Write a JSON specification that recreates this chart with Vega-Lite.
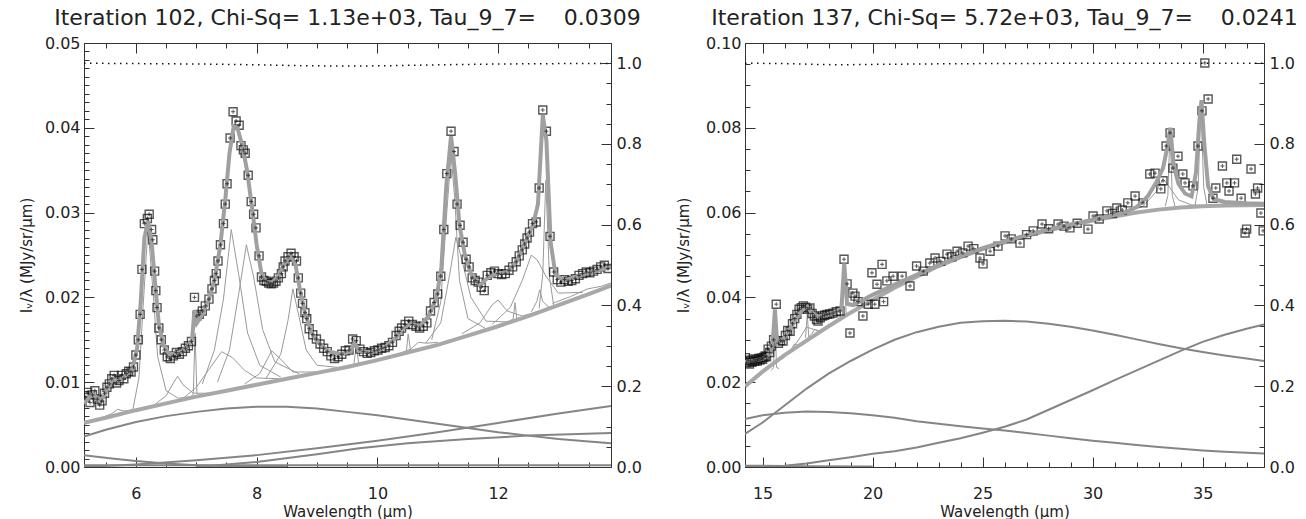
{
"$schema": "https://vega.github.io/schema/vega-lite/v6.json",
"background": "white",
"padding": {"left": 18, "top": 6, "right": 5, "bottom": 0},
"spacing": 33,
"config": {
  "view": {"stroke": "#333", "strokeWidth": 1},
  "axis": {"labelFont": "DejaVu Sans", "labelFontSize": 16, "labelColor": "#222", "titleFont": "DejaVu Sans", "titleFontSize": 15, "titleFontWeight": "normal", "titleColor": "#222", "grid": false, "labelFlush": false, "labelOverlap": false, "labelBound": false, "tickColor": "#333", "tickWidth": 1, "domainColor": "#333", "domainWidth": 1}
},
"datasets": {
"p1d": [
{"x":5.16,"y":0.0082},{"x":5.20,"y":0.0088},{"x":5.24,"y":0.0076},{"x":5.28,"y":0.0085},{"x":5.32,"y":0.0090},{"x":5.36,"y":0.0080},{"x":5.40,"y":0.0073},{"x":5.44,"y":0.0078},{"x":5.48,"y":0.0087},{"x":5.52,"y":0.0094},{"x":5.56,"y":0.0098},{"x":5.60,"y":0.0104},{"x":5.64,"y":0.0108},{"x":5.68,"y":0.0099},{"x":5.72,"y":0.0102},{"x":5.76,"y":0.0108},{"x":5.80,"y":0.0104},{"x":5.84,"y":0.0110},{"x":5.88,"y":0.0113},{"x":5.92,"y":0.0112},{"x":5.96,"y":0.0118},{"x":6.00,"y":0.0132},{"x":6.04,"y":0.0150},{"x":6.07,"y":0.0180},{"x":6.10,"y":0.0233},{"x":6.14,"y":0.0287},{"x":6.19,"y":0.0293},{"x":6.22,"y":0.0298},{"x":6.26,"y":0.0280},{"x":6.28,"y":0.0268},{"x":6.31,"y":0.0231},{"x":6.33,"y":0.0208},{"x":6.35,"y":0.0188},{"x":6.38,"y":0.0164},{"x":6.42,"y":0.0150},{"x":6.47,"y":0.0138},{"x":6.52,"y":0.0130},{"x":6.57,"y":0.0128},{"x":6.62,"y":0.0131},{"x":6.67,"y":0.0135},{"x":6.72,"y":0.0133},{"x":6.77,"y":0.0136},{"x":6.82,"y":0.0140},{"x":6.87,"y":0.0143},{"x":6.92,"y":0.0148},{"x":6.97,"y":0.0200},{"x":7.01,"y":0.0178},{"x":7.05,"y":0.0180},{"x":7.10,"y":0.0184},{"x":7.15,"y":0.0190},{"x":7.21,"y":0.0198},{"x":7.26,"y":0.0210},{"x":7.30,"y":0.0220},{"x":7.33,"y":0.0228},{"x":7.36,"y":0.0243},{"x":7.40,"y":0.0262},{"x":7.45,"y":0.0287},{"x":7.48,"y":0.0310},{"x":7.51,"y":0.0334},{"x":7.56,"y":0.0388},{"x":7.61,"y":0.0419},{"x":7.66,"y":0.0408},{"x":7.71,"y":0.0403},{"x":7.74,"y":0.0379},{"x":7.78,"y":0.0374},{"x":7.81,"y":0.0370},{"x":7.86,"y":0.0344},{"x":7.91,"y":0.0313},{"x":7.95,"y":0.0298},{"x":7.99,"y":0.0282},{"x":8.04,"y":0.0249},{"x":8.08,"y":0.0224},{"x":8.12,"y":0.0220},{"x":8.16,"y":0.0219},{"x":8.20,"y":0.0217},{"x":8.24,"y":0.0216},{"x":8.28,"y":0.0217},{"x":8.32,"y":0.0219},{"x":8.36,"y":0.0223},{"x":8.41,"y":0.0228},{"x":8.44,"y":0.0236},{"x":8.47,"y":0.0243},{"x":8.52,"y":0.0248},{"x":8.57,"y":0.0252},{"x":8.62,"y":0.0248},{"x":8.66,"y":0.0243},{"x":8.69,"y":0.0223},{"x":8.73,"y":0.0205},{"x":8.76,"y":0.0193},{"x":8.80,"y":0.0182},{"x":8.83,"y":0.0175},{"x":8.87,"y":0.0163},{"x":8.93,"y":0.0156},{"x":8.99,"y":0.0151},{"x":9.05,"y":0.0145},{"x":9.11,"y":0.0140},{"x":9.17,"y":0.0136},{"x":9.23,"y":0.0131},{"x":9.29,"y":0.0128},{"x":9.35,"y":0.0130},{"x":9.41,"y":0.0133},{"x":9.47,"y":0.0137},{"x":9.53,"y":0.0138},{"x":9.59,"y":0.0151},{"x":9.65,"y":0.0149},{"x":9.71,"y":0.0139},{"x":9.77,"y":0.0136},{"x":9.83,"y":0.0134},{"x":9.89,"y":0.0135},{"x":9.95,"y":0.0137},{"x":10.01,"y":0.0138},{"x":10.07,"y":0.0140},{"x":10.13,"y":0.0141},{"x":10.19,"y":0.0143},{"x":10.25,"y":0.0147},{"x":10.31,"y":0.0155},{"x":10.36,"y":0.0160},{"x":10.40,"y":0.0164},{"x":10.46,"y":0.0168},{"x":10.52,"y":0.0172},{"x":10.58,"y":0.0168},{"x":10.64,"y":0.0166},{"x":10.70,"y":0.0164},{"x":10.76,"y":0.0166},{"x":10.82,"y":0.0170},{"x":10.88,"y":0.0184},{"x":10.94,"y":0.0194},{"x":11.00,"y":0.0204},{"x":11.05,"y":0.0225},{"x":11.10,"y":0.0280},{"x":11.15,"y":0.0346},{"x":11.22,"y":0.0396},{"x":11.27,"y":0.0372},{"x":11.32,"y":0.0310},{"x":11.37,"y":0.0285},{"x":11.42,"y":0.0265},{"x":11.47,"y":0.0245},{"x":11.52,"y":0.0236},{"x":11.57,"y":0.0223},{"x":11.62,"y":0.0220},{"x":11.67,"y":0.0218},{"x":11.72,"y":0.0212},{"x":11.77,"y":0.0208},{"x":11.82,"y":0.0226},{"x":11.88,"y":0.0229},{"x":11.94,"y":0.0231},{"x":12.00,"y":0.0228},{"x":12.06,"y":0.0227},{"x":12.12,"y":0.0228},{"x":12.18,"y":0.0232},{"x":12.24,"y":0.0236},{"x":12.30,"y":0.0242},{"x":12.35,"y":0.0249},{"x":12.40,"y":0.0256},{"x":12.44,"y":0.0263},{"x":12.48,"y":0.0270},{"x":12.52,"y":0.0277},{"x":12.57,"y":0.0287},{"x":12.63,"y":0.0289},{"x":12.68,"y":0.0329},{"x":12.74,"y":0.0421},{"x":12.80,"y":0.0396},{"x":12.86,"y":0.0272},{"x":12.92,"y":0.0230},{"x":12.98,"y":0.0221},{"x":13.04,"y":0.0218},{"x":13.10,"y":0.0221},{"x":13.16,"y":0.0219},{"x":13.22,"y":0.0220},{"x":13.28,"y":0.0222},{"x":13.34,"y":0.0226},{"x":13.40,"y":0.0228},{"x":13.46,"y":0.0230},{"x":13.52,"y":0.0229},{"x":13.58,"y":0.0231},{"x":13.64,"y":0.0233},{"x":13.70,"y":0.0236},{"x":13.76,"y":0.0238},{"x":13.82,"y":0.0234}
],
"p1m": [
{"x":5.14,"y":0.0075},{"x":5.22,"y":0.0082},{"x":5.30,"y":0.0086},{"x":5.38,"y":0.0079},{"x":5.46,"y":0.0082},{"x":5.54,"y":0.0094},{"x":5.62,"y":0.0104},{"x":5.70,"y":0.0101},{"x":5.78,"y":0.0105},{"x":5.86,"y":0.0110},{"x":5.94,"y":0.0115},{"x":6.02,"y":0.0140},{"x":6.08,"y":0.0195},{"x":6.14,"y":0.0270},{"x":6.20,"y":0.0290},{"x":6.26,"y":0.0265},{"x":6.32,"y":0.0215},{"x":6.38,"y":0.0168},{"x":6.45,"y":0.0145},{"x":6.55,"y":0.0133},{"x":6.65,"y":0.0134},{"x":6.75,"y":0.0136},{"x":6.85,"y":0.0142},{"x":6.93,"y":0.0150},{"x":6.97,"y":0.0185},{"x":7.01,"y":0.0170},{"x":7.10,"y":0.0180},{"x":7.20,"y":0.0196},{"x":7.30,"y":0.0220},{"x":7.40,"y":0.0262},{"x":7.48,"y":0.0315},{"x":7.55,"y":0.0370},{"x":7.62,"y":0.0402},{"x":7.68,"y":0.0400},{"x":7.76,"y":0.0380},{"x":7.84,"y":0.0350},{"x":7.92,"y":0.0308},{"x":8.00,"y":0.0262},{"x":8.08,"y":0.0228},{"x":8.16,"y":0.0218},{"x":8.26,"y":0.0218},{"x":8.36,"y":0.0225},{"x":8.46,"y":0.0240},{"x":8.56,"y":0.0250},{"x":8.64,"y":0.0240},{"x":8.72,"y":0.0208},{"x":8.80,"y":0.0182},{"x":8.90,"y":0.0160},{"x":9.00,"y":0.0148},{"x":9.20,"y":0.0136},{"x":9.40,"y":0.0133},{"x":9.55,"y":0.0136},{"x":9.62,"y":0.0146},{"x":9.70,"y":0.0137},{"x":9.90,"y":0.0135},{"x":10.10,"y":0.0140},{"x":10.30,"y":0.0152},{"x":10.45,"y":0.0165},{"x":10.55,"y":0.0169},{"x":10.70,"y":0.0166},{"x":10.85,"y":0.0178},{"x":10.98,"y":0.0200},{"x":11.06,"y":0.0235},{"x":11.14,"y":0.0330},{"x":11.22,"y":0.0390},{"x":11.29,"y":0.0345},{"x":11.36,"y":0.0285},{"x":11.45,"y":0.0250},{"x":11.55,"y":0.0228},{"x":11.70,"y":0.0214},{"x":11.85,"y":0.0225},{"x":12.00,"y":0.0228},{"x":12.15,"y":0.0230},{"x":12.30,"y":0.0242},{"x":12.45,"y":0.0265},{"x":12.58,"y":0.0286},{"x":12.66,"y":0.0310},{"x":12.74,"y":0.0415},{"x":12.80,"y":0.0385},{"x":12.87,"y":0.0265},{"x":12.95,"y":0.0227},{"x":13.10,"y":0.0220},{"x":13.40,"y":0.0227},{"x":13.87,"y":0.0236}
],
"p1c": [
{"x":5.14,"y":0.0052},{"x":5.5,"y":0.0058},{"x":6,"y":0.0067},{"x":6.5,"y":0.0075},{"x":7,"y":0.0083},{"x":7.5,"y":0.0090},{"x":8,"y":0.0097},{"x":8.5,"y":0.0104},{"x":9,"y":0.0111},{"x":9.5,"y":0.0118},{"x":10,"y":0.0126},{"x":10.5,"y":0.0135},{"x":11,"y":0.0144},{"x":11.5,"y":0.0155},{"x":12,"y":0.0166},{"x":12.5,"y":0.0178},{"x":13,"y":0.0191},{"x":13.5,"y":0.0204},{"x":13.87,"y":0.0214}
],
"p1k": [
{"s":"h","x":5.14,"y":0.0036},{"s":"h","x":5.5,"y":0.0044},{"s":"h","x":6,"y":0.0053},{"s":"h","x":6.5,"y":0.0060},{"s":"h","x":7,"y":0.0065},{"s":"h","x":7.5,"y":0.0069},{"s":"h","x":8,"y":0.0071},{"s":"h","x":8.5,"y":0.0071},{"s":"h","x":9,"y":0.0069},{"s":"h","x":9.5,"y":0.0065},{"s":"h","x":10,"y":0.0061},{"s":"h","x":10.5,"y":0.0056},{"s":"h","x":11,"y":0.0051},{"s":"h","x":11.5,"y":0.0046},{"s":"h","x":12,"y":0.0041},{"s":"h","x":12.5,"y":0.0037},{"s":"h","x":13,"y":0.0033},{"s":"h","x":13.5,"y":0.0030},{"s":"h","x":13.87,"y":0.0028},
{"s":"d","x":5.14,"y":0.0014},{"s":"d","x":5.6,"y":0.0010},{"s":"d","x":6.0,"y":0.0007},{"s":"d","x":6.5,"y":0.0004},{"s":"d","x":7.0,"y":0.0002},{"s":"d","x":7.5,"y":0.0001},{"s":"d","x":8.5,"y":0.0},
{"s":"r1","x":5.14,"y":0.0},{"s":"r1","x":6,"y":0.0003},{"s":"r1","x":7,"y":0.0008},{"s":"r1","x":8,"y":0.0014},{"s":"r1","x":9,"y":0.0022},{"s":"r1","x":10,"y":0.0031},{"s":"r1","x":11,"y":0.0041},{"s":"r1","x":12,"y":0.0052},{"s":"r1","x":13,"y":0.0063},{"s":"r1","x":13.87,"y":0.0072},
{"s":"r2","x":7.0,"y":0.0},{"s":"r2","x":8.0,"y":0.0006},{"s":"r2","x":9.0,"y":0.0015},{"s":"r2","x":9.7,"y":0.0022},{"s":"r2","x":10.5,"y":0.0028},{"s":"r2","x":11.5,"y":0.0033},{"s":"r2","x":12.5,"y":0.0037},{"s":"r2","x":13.87,"y":0.0040},
{"s":"z","x":5.14,"y":0.0002},{"s":"z","x":13.87,"y":0.0002}
],
"p1f": [
{"s":"a","x":5.4,"y":0.0057},{"s":"a","x":5.6,"y":0.0063},{"s":"a","x":5.7,"y":0.0068},{"s":"a","x":5.8,"y":0.0066},{"s":"a","x":6.0,"y":0.0068},
{"s":"b","x":5.95,"y":0.0068},{"s":"b","x":6.05,"y":0.0105},{"s":"b","x":6.12,"y":0.0190},{"s":"b","x":6.2,"y":0.0282},{"s":"b","x":6.28,"y":0.0210},{"s":"b","x":6.36,"y":0.0130},{"s":"b","x":6.5,"y":0.0090},{"s":"b","x":6.7,"y":0.0081},{"s":"b","x":7.0,"y":0.0084},
{"s":"c","x":6.3,"y":0.0073},{"s":"c","x":6.5,"y":0.0084},{"s":"c","x":6.62,"y":0.0099},{"s":"c","x":6.69,"y":0.0107},{"s":"c","x":6.78,"y":0.0097},{"s":"c","x":6.95,"y":0.0087},{"s":"c","x":7.2,"y":0.0087},
{"s":"d","x":6.9,"y":0.0082},{"s":"d","x":6.95,"y":0.0086},{"s":"d","x":6.98,"y":0.0158},{"s":"d","x":7.01,"y":0.0087},{"s":"d","x":7.06,"y":0.0084},
{"s":"e","x":6.8,"y":0.0082},{"s":"e","x":7.0,"y":0.0094},{"s":"e","x":7.2,"y":0.0114},{"s":"e","x":7.42,"y":0.0136},{"s":"e","x":7.6,"y":0.0129},{"s":"e","x":7.8,"y":0.0114},{"s":"e","x":8.0,"y":0.0105},{"s":"e","x":8.4,"y":0.0104},
{"s":"f","x":7.1,"y":0.0098},{"s":"f","x":7.3,"y":0.0138},{"s":"f","x":7.45,"y":0.0198},{"s":"f","x":7.58,"y":0.0280},{"s":"f","x":7.7,"y":0.0228},{"s":"f","x":7.85,"y":0.0158},{"s":"f","x":8.05,"y":0.0120},{"s":"f","x":8.4,"y":0.0106},
{"s":"g","x":7.35,"y":0.0100},{"s":"g","x":7.55,"y":0.0138},{"s":"g","x":7.7,"y":0.0203},{"s":"g","x":7.83,"y":0.0262},{"s":"g","x":7.95,"y":0.0224},{"s":"g","x":8.1,"y":0.0162},{"s":"g","x":8.3,"y":0.0124},{"s":"g","x":8.7,"y":0.0110},
{"s":"h","x":7.8,"y":0.0098},{"s":"h","x":8.05,"y":0.0110},{"s":"h","x":8.25,"y":0.0137},{"s":"h","x":8.4,"y":0.0127},{"s":"h","x":8.6,"y":0.0112},{"s":"h","x":9.0,"y":0.0112},
{"s":"i","x":8.15,"y":0.0104},{"s":"i","x":8.4,"y":0.0133},{"s":"i","x":8.52,"y":0.0173},{"s":"i","x":8.6,"y":0.0210},{"s":"i","x":8.7,"y":0.0178},{"s":"i","x":8.82,"y":0.0138},{"s":"i","x":9.0,"y":0.0120},{"s":"i","x":9.4,"y":0.0117},
{"s":"j","x":9.55,"y":0.0119},{"s":"j","x":9.61,"y":0.0121},{"s":"j","x":9.65,"y":0.0144},{"s":"j","x":9.69,"y":0.0122},{"s":"j","x":9.75,"y":0.0121},
{"s":"k","x":10.42,"y":0.0134},{"s":"k","x":10.48,"y":0.0136},{"s":"k","x":10.51,"y":0.0157},{"s":"k","x":10.55,"y":0.0137},{"s":"k","x":10.6,"y":0.0137},
{"s":"l","x":10.3,"y":0.0132},{"s":"l","x":10.55,"y":0.0139},{"s":"l","x":10.68,"y":0.0147},{"s":"l","x":10.82,"y":0.0146},{"s":"l","x":11.0,"y":0.0147},
{"s":"m","x":10.9,"y":0.0150},{"s":"m","x":11.05,"y":0.0195},{"s":"m","x":11.15,"y":0.0300},{"s":"m","x":11.22,"y":0.0368},{"s":"m","x":11.28,"y":0.0318},{"s":"m","x":11.36,"y":0.0220},{"s":"m","x":11.5,"y":0.0175},{"s":"m","x":11.8,"y":0.0163},
{"s":"n","x":10.8,"y":0.0146},{"s":"n","x":11.05,"y":0.0170},{"s":"n","x":11.2,"y":0.0228},{"s":"n","x":11.3,"y":0.0271},{"s":"n","x":11.4,"y":0.0244},{"s":"n","x":11.55,"y":0.0200},{"s":"n","x":11.8,"y":0.0172},{"s":"n","x":12.2,"y":0.0171},
{"s":"o","x":11.4,"y":0.0157},{"s":"o","x":11.7,"y":0.0170},{"s":"o","x":11.9,"y":0.0191},{"s":"o","x":12.0,"y":0.0197},{"s":"o","x":12.15,"y":0.0184},{"s":"o","x":12.4,"y":0.0178},{"s":"o","x":12.8,"y":0.0186},
{"s":"p","x":12.2,"y":0.0172},{"s":"p","x":12.25,"y":0.0175},{"s":"p","x":12.28,"y":0.0194},{"s":"p","x":12.31,"y":0.0175},{"s":"p","x":12.36,"y":0.0175},
{"s":"q","x":11.9,"y":0.0168},{"s":"q","x":12.2,"y":0.0188},{"s":"q","x":12.4,"y":0.0220},{"s":"q","x":12.55,"y":0.0250},{"s":"q","x":12.65,"y":0.0244},{"s":"q","x":12.8,"y":0.0224},{"s":"q","x":13.0,"y":0.0205},{"s":"q","x":13.4,"y":0.0206},
{"s":"r","x":12.55,"y":0.0183},{"s":"r","x":12.64,"y":0.0195},{"s":"r","x":12.69,"y":0.0209},{"s":"r","x":12.74,"y":0.0195},{"s":"r","x":12.85,"y":0.0188},
{"s":"t","x":12.68,"y":0.0187},{"s":"t","x":12.74,"y":0.0228},{"s":"t","x":12.79,"y":0.0338},{"s":"t","x":12.85,"y":0.0224},{"s":"t","x":12.92,"y":0.0191},
{"s":"u","x":12.9,"y":0.0193},{"s":"u","x":13.2,"y":0.0201},{"s":"u","x":13.48,"y":0.0210},{"s":"u","x":13.7,"y":0.0213},{"s":"u","x":13.87,"y":0.0217}
],
"p1e": [
{"x":5.14,"e":1.0},{"x":6,"e":0.999},{"x":7,"e":0.998},{"x":8,"e":0.996},{"x":8.7,"e":0.994},{"x":9.3,"e":0.993},{"x":9.7,"e":0.993},{"x":10.3,"e":0.994},{"x":11,"e":0.996},{"x":12,"e":0.998},{"x":13,"e":0.999},{"x":13.87,"e":0.999}
],
"p2d": [
{"x":14.22,"y":0.0258},{"x":14.28,"y":0.0246},{"x":14.34,"y":0.0252},{"x":14.40,"y":0.0243},{"x":14.46,"y":0.0250},{"x":14.52,"y":0.0247},{"x":14.58,"y":0.0255},{"x":14.64,"y":0.0249},{"x":14.70,"y":0.0253},{"x":14.76,"y":0.0250},{"x":14.82,"y":0.0256},{"x":14.88,"y":0.0252},{"x":14.94,"y":0.0257},{"x":15.00,"y":0.0254},{"x":15.06,"y":0.0259},{"x":15.12,"y":0.0262},{"x":15.18,"y":0.0260},{"x":15.25,"y":0.0278},{"x":15.32,"y":0.0270},{"x":15.40,"y":0.0285},{"x":15.50,"y":0.0300},{"x":15.62,"y":0.0384},{"x":15.72,"y":0.0292},{"x":15.82,"y":0.0298},{"x":15.93,"y":0.0297},{"x":16.04,"y":0.0310},{"x":16.14,"y":0.0322},{"x":16.25,"y":0.0320},{"x":16.36,"y":0.0338},{"x":16.46,"y":0.0350},{"x":16.56,"y":0.0360},{"x":16.66,"y":0.0372},{"x":16.76,"y":0.0376},{"x":16.85,"y":0.0380},{"x":16.95,"y":0.0377},{"x":17.05,"y":0.0372},{"x":17.15,"y":0.0375},{"x":17.25,"y":0.0362},{"x":17.35,"y":0.0356},{"x":17.45,"y":0.0348},{"x":17.52,"y":0.0344},{"x":17.62,"y":0.0352},{"x":17.72,"y":0.0356},{"x":17.82,"y":0.0358},{"x":17.93,"y":0.0360},{"x":18.05,"y":0.0361},{"x":18.20,"y":0.0363},{"x":18.35,"y":0.0366},{"x":18.52,"y":0.0368},{"x":18.70,"y":0.0490},{"x":18.84,"y":0.0432},{"x":18.97,"y":0.0316},{"x":19.10,"y":0.0410},{"x":19.20,"y":0.0403},{"x":19.34,"y":0.0390},{"x":19.56,"y":0.0356},{"x":19.80,"y":0.0384},{"x":19.97,"y":0.0458},{"x":20.10,"y":0.0384},{"x":20.20,"y":0.0431},{"x":20.43,"y":0.0478},{"x":20.50,"y":0.0390},{"x":20.65,"y":0.0439},{"x":20.93,"y":0.0450},{"x":21.34,"y":0.0450},{"x":21.70,"y":0.0427},{"x":22.00,"y":0.0474},{"x":22.30,"y":0.0462},{"x":22.60,"y":0.0481},{"x":22.84,"y":0.0493},{"x":23.10,"y":0.0485},{"x":23.38,"y":0.0502},{"x":23.60,"y":0.0496},{"x":23.84,"y":0.0509},{"x":24.10,"y":0.0505},{"x":24.34,"y":0.0521},{"x":24.60,"y":0.0515},{"x":24.88,"y":0.0493},{"x":25.02,"y":0.0479},{"x":25.34,"y":0.0509},{"x":25.70,"y":0.0521},{"x":26.02,"y":0.0545},{"x":26.30,"y":0.0538},{"x":26.70,"y":0.0528},{"x":27.00,"y":0.0548},{"x":27.30,"y":0.0557},{"x":27.70,"y":0.0573},{"x":28.00,"y":0.0562},{"x":28.43,"y":0.0573},{"x":28.70,"y":0.0568},{"x":28.97,"y":0.0564},{"x":29.30,"y":0.0575},{"x":29.79,"y":0.0561},{"x":30.02,"y":0.0592},{"x":30.30,"y":0.0585},{"x":30.65,"y":0.0604},{"x":30.90,"y":0.0598},{"x":31.10,"y":0.0611},{"x":31.35,"y":0.0606},{"x":31.60,"y":0.0623},{"x":31.93,"y":0.0639},{"x":32.29,"y":0.0623},{"x":32.60,"y":0.0691},{"x":32.84,"y":0.0693},{"x":33.10,"y":0.0656},{"x":33.20,"y":0.0675},{"x":33.34,"y":0.0757},{"x":33.52,"y":0.0788},{"x":33.65,"y":0.0705},{"x":33.88,"y":0.0733},{"x":34.10,"y":0.0691},{"x":34.20,"y":0.0670},{"x":34.56,"y":0.0663},{"x":34.79,"y":0.0757},{"x":34.97,"y":0.0840},{"x":35.10,"y":0.0953},{"x":35.25,"y":0.0868},{"x":35.47,"y":0.0634},{"x":35.60,"y":0.0658},{"x":35.90,"y":0.0710},{"x":36.10,"y":0.0670},{"x":36.20,"y":0.0651},{"x":36.45,"y":0.0670},{"x":36.55,"y":0.0726},{"x":36.75,"y":0.0634},{"x":36.93,"y":0.0552},{"x":37.00,"y":0.0561},{"x":37.20,"y":0.0703},{"x":37.40,"y":0.0644},{"x":37.50,"y":0.0658},{"x":37.65,"y":0.0599},{"x":37.75,"y":0.0557}
],
"p2m": [
{"x":14.2,"y":0.0248},{"x":14.6,"y":0.0251},{"x":15.0,"y":0.0255},{"x":15.3,"y":0.0266},{"x":15.45,"y":0.0285},{"x":15.56,"y":0.0372},{"x":15.66,"y":0.0292},{"x":15.9,"y":0.0300},{"x":16.2,"y":0.0322},{"x":16.5,"y":0.0348},{"x":16.8,"y":0.0370},{"x":17.03,"y":0.0378},{"x":17.2,"y":0.0366},{"x":17.5,"y":0.0355},{"x":17.9,"y":0.0358},{"x":18.3,"y":0.0365},{"x":18.58,"y":0.0372},{"x":18.71,"y":0.0480},{"x":18.84,"y":0.0385},{"x":19.1,"y":0.0382},{"x":19.6,"y":0.0395},{"x":20.0,"y":0.0406},{"x":21.0,"y":0.0430},{"x":22.0,"y":0.0453},{"x":23.0,"y":0.0476},{"x":24.0,"y":0.0497},{"x":25.0,"y":0.0516},{"x":26.0,"y":0.0532},{"x":27.0,"y":0.0547},{"x":28.0,"y":0.0560},{"x":29.0,"y":0.0572},{"x":30.0,"y":0.0583},{"x":31.0,"y":0.0594},{"x":31.5,"y":0.0601},{"x":32.0,"y":0.0613},{"x":32.5,"y":0.0638},{"x":32.9,"y":0.0672},{"x":33.2,"y":0.0705},{"x":33.4,"y":0.0755},{"x":33.53,"y":0.0800},{"x":33.68,"y":0.0712},{"x":33.9,"y":0.0668},{"x":34.2,"y":0.0645},{"x":34.5,"y":0.0638},{"x":34.7,"y":0.0695},{"x":34.85,"y":0.0815},{"x":34.95,"y":0.0865},{"x":35.08,"y":0.0760},{"x":35.25,"y":0.0662},{"x":35.5,"y":0.0632},{"x":36.0,"y":0.0625},{"x":37.0,"y":0.0622},{"x":37.79,"y":0.0621}
],
"p2c": [
{"x":14.2,"y":0.0190},{"x":15,"y":0.0225},{"x":16,"y":0.0264},{"x":17,"y":0.0298},{"x":18,"y":0.0332},{"x":19,"y":0.0364},{"x":20,"y":0.0394},{"x":21,"y":0.0423},{"x":22,"y":0.0449},{"x":23,"y":0.0474},{"x":24,"y":0.0495},{"x":25,"y":0.0514},{"x":26,"y":0.0530},{"x":27,"y":0.0545},{"x":28,"y":0.0558},{"x":29,"y":0.0570},{"x":30,"y":0.0581},{"x":31,"y":0.0591},{"x":32,"y":0.0600},{"x":33,"y":0.0607},{"x":34,"y":0.0612},{"x":35,"y":0.0615},{"x":36,"y":0.0617},{"x":37.79,"y":0.0618}
],
"p2k": [
{"s":"b1","x":14.2,"y":0.0078},{"s":"b1","x":15,"y":0.0105},{"s":"b1","x":16,"y":0.0145},{"s":"b1","x":17,"y":0.0185},{"s":"b1","x":18,"y":0.0220},{"s":"b1","x":19,"y":0.0250},{"s":"b1","x":20,"y":0.0277},{"s":"b1","x":21,"y":0.0300},{"s":"b1","x":22,"y":0.0318},{"s":"b1","x":23,"y":0.0331},{"s":"b1","x":24,"y":0.0340},{"s":"b1","x":25,"y":0.0344},{"s":"b1","x":26,"y":0.0345},{"s":"b1","x":27,"y":0.0343},{"s":"b1","x":28,"y":0.0338},{"s":"b1","x":29,"y":0.0331},{"s":"b1","x":30,"y":0.0322},{"s":"b1","x":31,"y":0.0312},{"s":"b1","x":32,"y":0.0301},{"s":"b1","x":33,"y":0.0290},{"s":"b1","x":34,"y":0.0280},{"s":"b1","x":35,"y":0.0271},{"s":"b1","x":36,"y":0.0263},{"s":"b1","x":37,"y":0.0256},{"s":"b1","x":37.79,"y":0.0250},
{"s":"b2","x":14.2,"y":0.0113},{"s":"b2","x":15,"y":0.0122},{"s":"b2","x":16,"y":0.0128},{"s":"b2","x":17,"y":0.0131},{"s":"b2","x":18,"y":0.0130},{"s":"b2","x":19,"y":0.0127},{"s":"b2","x":20,"y":0.0122},{"s":"b2","x":21,"y":0.0116},{"s":"b2","x":22,"y":0.0108},{"s":"b2","x":23,"y":0.0102},{"s":"b2","x":24,"y":0.0096},{"s":"b2","x":25,"y":0.0091},{"s":"b2","x":26,"y":0.0086},{"s":"b2","x":27,"y":0.0080},{"s":"b2","x":28,"y":0.0074},{"s":"b2","x":29,"y":0.0068},{"s":"b2","x":30,"y":0.0062},{"s":"b2","x":31,"y":0.0057},{"s":"b2","x":32,"y":0.0052},{"s":"b2","x":33,"y":0.0047},{"s":"b2","x":34,"y":0.0043},{"s":"b2","x":35,"y":0.0039},{"s":"b2","x":36,"y":0.0036},{"s":"b2","x":37.79,"y":0.0032},
{"s":"b3","x":14.2,"y":0.0},{"s":"b3","x":15,"y":0.0001},{"s":"b3","x":16,"y":0.0003},{"s":"b3","x":17,"y":0.0008},{"s":"b3","x":18,"y":0.0016},{"s":"b3","x":19,"y":0.0023},{"s":"b3","x":20,"y":0.0031},{"s":"b3","x":21,"y":0.0037},{"s":"b3","x":22,"y":0.0046},{"s":"b3","x":23,"y":0.0057},{"s":"b3","x":24,"y":0.0068},{"s":"b3","x":25,"y":0.0081},{"s":"b3","x":26,"y":0.0095},{"s":"b3","x":27,"y":0.0112},{"s":"b3","x":28,"y":0.0135},{"s":"b3","x":29,"y":0.0158},{"s":"b3","x":30,"y":0.0181},{"s":"b3","x":31,"y":0.0205},{"s":"b3","x":32,"y":0.0228},{"s":"b3","x":33,"y":0.0251},{"s":"b3","x":34,"y":0.0274},{"s":"b3","x":35,"y":0.0295},{"s":"b3","x":36,"y":0.0312},{"s":"b3","x":37,"y":0.0326},{"s":"b3","x":37.79,"y":0.0336},
{"s":"z","x":14.2,"y":0.0003},{"s":"z","x":17,"y":0.0002},{"s":"z","x":20,"y":0.0001}
],
"p2f": [
{"s":"a","x":15.4,"y":0.0228},{"s":"a","x":15.5,"y":0.0235},{"s":"a","x":15.56,"y":0.0370},{"s":"a","x":15.63,"y":0.0235},{"s":"a","x":15.75,"y":0.0232},
{"s":"b","x":15.9,"y":0.0255},{"s":"b","x":16.2,"y":0.0270},{"s":"b","x":16.45,"y":0.0290},{"s":"b","x":16.7,"y":0.0285},{"s":"b","x":17.1,"y":0.0300},
{"s":"c","x":16.3,"y":0.0275},{"s":"c","x":16.7,"y":0.0305},{"s":"c","x":17.0,"y":0.0330},{"s":"c","x":17.3,"y":0.0325},{"s":"c","x":17.7,"y":0.0320},{"s":"c","x":18.2,"y":0.0340},
{"s":"d","x":17.0,"y":0.0302},{"s":"d","x":17.25,"y":0.0315},{"s":"d","x":17.37,"y":0.0325},{"s":"d","x":17.5,"y":0.0320},{"s":"d","x":17.8,"y":0.0325},
{"s":"e","x":16.95,"y":0.0305},{"s":"e","x":17.03,"y":0.0360},{"s":"e","x":17.1,"y":0.0306},
{"s":"f","x":18.5,"y":0.0345},{"s":"f","x":18.62,"y":0.0350},{"s":"f","x":18.71,"y":0.0475},{"s":"f","x":18.8,"y":0.0356},{"s":"f","x":18.95,"y":0.0360},
{"s":"g","x":31.5,"y":0.0600},{"s":"g","x":32.3,"y":0.0615},{"s":"g","x":32.9,"y":0.0650},{"s":"g","x":33.2,"y":0.0680},{"s":"g","x":33.5,"y":0.0660},{"s":"g","x":33.9,"y":0.0630},{"s":"g","x":34.5,"y":0.0618},{"s":"g","x":35.5,"y":0.0616},
{"s":"h","x":33.3,"y":0.0615},{"s":"h","x":33.42,"y":0.0640},{"s":"h","x":33.52,"y":0.0795},{"s":"h","x":33.62,"y":0.0640},{"s":"h","x":33.75,"y":0.0614},
{"s":"i","x":34.65,"y":0.0616},{"s":"i","x":34.8,"y":0.0660},{"s":"i","x":34.92,"y":0.0860},{"s":"i","x":35.05,"y":0.0660},{"s":"i","x":35.2,"y":0.0617}
],
"p2e": [
{"x":14.2,"e":1.0},{"x":16,"e":0.999},{"x":17.5,"e":0.997},{"x":18.5,"e":0.996},{"x":20,"e":0.997},{"x":22,"e":0.998},{"x":25,"e":0.999},{"x":30,"e":1.0},{"x":37.79,"e":1.0}
]
},
"hconcat": [
{
  "width": 527, "height": 424,
  "title": {"text": "Iteration 102, Chi-Sq= 1.13e+03, Tau_9_7=\u00a0\u00a0\u00a0\u00a00.0309", "font": "DejaVu Sans", "fontSize": 22, "fontWeight": "normal", "color": "#222", "anchor": "middle", "frame": "group", "offset": 5},
  "resolve": {"scale": {"x": "independent", "y": "independent"}, "axis": {"x": "independent", "y": "independent"}},
  "layer": [
    {"data": {"name": "p1k"}, "mark": {"type": "line", "color": "#858585", "strokeWidth": 2, "clip": true},
     "encoding": {
       "x": {"field": "x", "type": "quantitative", "scale": {"domain": [5.14, 13.87], "nice": false, "zero": false},
         "axis": {"orient": "bottom", "title": "Wavelength (\u03bcm)", "values": [6,8,10,12], "labelExpr": "format(datum.value, 'd')", "tickSize": -10, "labelPadding": 28, "titlePadding": 3}},
       "y": {"field": "y", "type": "quantitative", "scale": {"domain": [0, 0.05], "nice": false, "zero": false},
         "axis": {"orient": "left", "title": "I\u1d65/\u03bb (MJy/sr/\u03bcm)", "values": [0,0.01,0.02,0.03,0.04,0.05], "labelExpr": "format(datum.value, '.2f')", "tickSize": -10, "labelPadding": 14, "titlePadding": 10}},
       "detail": {"field": "s", "type": "nominal"}
     }},
    {"data": {"name": "p1f"}, "mark": {"type": "line", "color": "#9a9a9a", "strokeWidth": 1, "clip": true},
     "encoding": {
       "x": {"field": "x", "type": "quantitative", "scale": {"domain": [5.14, 13.87], "nice": false, "zero": false},
         "axis": {"orient": "bottom", "title": null, "labels": false, "domain": false, "values": [5.5,6.5,7,7.5,8.5,9,9.5,10.5,11,11.5,12.5,13,13.5], "tickSize": -5}},
       "y": {"field": "y", "type": "quantitative", "scale": {"domain": [0, 0.05], "nice": false, "zero": false},
         "axis": {"orient": "left", "title": null, "labels": false, "domain": false, "values": [0.001,0.002,0.003,0.004,0.005,0.006,0.007,0.008,0.009,0.011,0.012,0.013,0.014,0.015,0.016,0.017,0.018,0.019,0.021,0.022,0.023,0.024,0.025,0.026,0.027,0.028,0.029,0.031,0.032,0.033,0.034,0.035,0.036,0.037,0.038,0.039,0.041,0.042,0.043,0.044,0.045,0.046,0.047,0.048,0.049], "tickSize": -5}},
       "detail": {"field": "s", "type": "nominal"}
     }},
    {"data": {"name": "p1c"}, "mark": {"type": "line", "color": "#a8a8a8", "strokeWidth": 4, "clip": true},
     "encoding": {
       "x": {"field": "x", "type": "quantitative", "scale": {"domain": [5.14, 13.87], "nice": false, "zero": false},
         "axis": {"orient": "top", "title": null, "labels": false, "domain": false, "values": [5.5,6.5,7,7.5,8.5,9,9.5,10.5,11,11.5,12.5,13,13.5], "tickSize": -5}},
       "y": {"field": "y", "type": "quantitative", "scale": {"domain": [0, 0.05], "nice": false, "zero": false}, "axis": null}
     }},
    {"data": {"name": "p1d"}, "mark": {"type": "point", "shape": "square", "filled": false, "color": "#111", "size": 64, "strokeWidth": 1.4, "clip": true},
     "encoding": {
       "x": {"field": "x", "type": "quantitative", "scale": {"domain": [5.14, 13.87], "nice": false, "zero": false}, "axis": null},
       "y": {"field": "y", "type": "quantitative", "scale": {"domain": [0, 0.05], "nice": false, "zero": false}, "axis": null}
     }},
    {"data": {"name": "p1m"}, "mark": {"type": "line", "color": "#a0a0a0", "strokeWidth": 4, "clip": true},
     "encoding": {
       "x": {"field": "x", "type": "quantitative", "scale": {"domain": [5.14, 13.87], "nice": false, "zero": false}, "axis": null},
       "y": {"field": "y", "type": "quantitative", "scale": {"domain": [0, 0.05], "nice": false, "zero": false}, "axis": null}
     }},
    {"data": {"name": "p1d"}, "mark": {"type": "point", "shape": "M-1,0L1,0M0,-1L0,1", "filled": false, "color": "#111", "size": 16, "strokeWidth": 1, "clip": true},
     "encoding": {
       "x": {"field": "x", "type": "quantitative", "scale": {"domain": [5.14, 13.87], "nice": false, "zero": false}, "axis": null},
       "y": {"field": "y", "type": "quantitative", "scale": {"domain": [0, 0.05], "nice": false, "zero": false}, "axis": null}
     }},
    {"data": {"name": "p1e"}, "mark": {"type": "line", "color": "#111", "strokeWidth": 1.5, "strokeDash": [1.5, 4.5], "clip": true},
     "encoding": {
       "x": {"field": "x", "type": "quantitative", "scale": {"domain": [5.14, 13.87], "nice": false, "zero": false},
         "axis": {"orient": "top", "title": null, "labels": false, "values": [6,8,10,12], "tickSize": -10}},
       "y": {"field": "e", "type": "quantitative", "scale": {"domain": [0, 1.05], "nice": false, "zero": false},
         "axis": {"orient": "right", "title": null, "values": [0,0.2,0.4,0.6,0.8,1.0], "labelExpr": "format(datum.value, '.1f')", "tickSize": -10, "labelPadding": 15}}
     }},
    {"data": {"name": "p1e"}, "mark": {"type": "line", "opacity": 0, "clip": true},
     "encoding": {
       "x": {"field": "x", "type": "quantitative", "scale": {"domain": [5.14, 13.87], "nice": false, "zero": false}, "axis": null},
       "y": {"field": "e", "type": "quantitative", "scale": {"domain": [0, 1.05], "nice": false, "zero": false},
         "axis": {"orient": "right", "title": null, "labels": false, "domain": false, "values": [0.05,0.1,0.15,0.25,0.3,0.35,0.45,0.5,0.55,0.65,0.7,0.75,0.85,0.9,0.95,1.05], "tickSize": -5}}
     }}
  ]
},
{
  "width": 519, "height": 424,
  "title": {"text": "Iteration 137, Chi-Sq= 5.72e+03, Tau_9_7=\u00a0\u00a0\u00a0\u00a00.0241", "font": "DejaVu Sans", "fontSize": 22, "fontWeight": "normal", "color": "#222", "anchor": "middle", "frame": "group", "offset": 5},
  "resolve": {"scale": {"x": "independent", "y": "independent"}, "axis": {"x": "independent", "y": "independent"}},
  "layer": [
    {"data": {"name": "p2k"}, "mark": {"type": "line", "color": "#858585", "strokeWidth": 2, "clip": true},
     "encoding": {
       "x": {"field": "x", "type": "quantitative", "scale": {"domain": [14.2, 37.79], "nice": false, "zero": false},
         "axis": {"orient": "bottom", "title": "Wavelength (\u03bcm)", "values": [15,20,25,30,35], "labelExpr": "format(datum.value, 'd')", "tickSize": -10, "labelPadding": 28, "titlePadding": 3}},
       "y": {"field": "y", "type": "quantitative", "scale": {"domain": [0, 0.1], "nice": false, "zero": false},
         "axis": {"orient": "left", "title": "I\u1d65/\u03bb (MJy/sr/\u03bcm)", "values": [0,0.02,0.04,0.06,0.08,0.1], "labelExpr": "format(datum.value, '.2f')", "tickSize": -10, "labelPadding": 14, "titlePadding": 14}},
       "detail": {"field": "s", "type": "nominal"}
     }},
    {"data": {"name": "p2f"}, "mark": {"type": "line", "color": "#9a9a9a", "strokeWidth": 1, "clip": true},
     "encoding": {
       "x": {"field": "x", "type": "quantitative", "scale": {"domain": [14.2, 37.79], "nice": false, "zero": false},
         "axis": {"orient": "bottom", "title": null, "labels": false, "domain": false, "values": [16,17,18,19,21,22,23,24,26,27,28,29,31,32,33,34,36,37], "tickSize": -5}},
       "y": {"field": "y", "type": "quantitative", "scale": {"domain": [0, 0.1], "nice": false, "zero": false},
         "axis": {"orient": "left", "title": null, "labels": false, "domain": false, "values": [0.005,0.01,0.015,0.025,0.03,0.035,0.045,0.05,0.055,0.065,0.07,0.075,0.085,0.09,0.095], "tickSize": -5}},
       "detail": {"field": "s", "type": "nominal"}
     }},
    {"data": {"name": "p2c"}, "mark": {"type": "line", "color": "#a8a8a8", "strokeWidth": 4, "clip": true},
     "encoding": {
       "x": {"field": "x", "type": "quantitative", "scale": {"domain": [14.2, 37.79], "nice": false, "zero": false},
         "axis": {"orient": "top", "title": null, "labels": false, "domain": false, "values": [16,17,18,19,21,22,23,24,26,27,28,29,31,32,33,34,36,37], "tickSize": -5}},
       "y": {"field": "y", "type": "quantitative", "scale": {"domain": [0, 0.1], "nice": false, "zero": false}, "axis": null}
     }},
    {"data": {"name": "p2d"}, "mark": {"type": "point", "shape": "square", "filled": false, "color": "#111", "size": 64, "strokeWidth": 1.4, "clip": true},
     "encoding": {
       "x": {"field": "x", "type": "quantitative", "scale": {"domain": [14.2, 37.79], "nice": false, "zero": false}, "axis": null},
       "y": {"field": "y", "type": "quantitative", "scale": {"domain": [0, 0.1], "nice": false, "zero": false}, "axis": null}
     }},
    {"data": {"name": "p2m"}, "mark": {"type": "line", "color": "#a0a0a0", "strokeWidth": 4, "clip": true},
     "encoding": {
       "x": {"field": "x", "type": "quantitative", "scale": {"domain": [14.2, 37.79], "nice": false, "zero": false}, "axis": null},
       "y": {"field": "y", "type": "quantitative", "scale": {"domain": [0, 0.1], "nice": false, "zero": false}, "axis": null}
     }},
    {"data": {"name": "p2d"}, "mark": {"type": "point", "shape": "M-1,0L1,0M0,-1L0,1", "filled": false, "color": "#111", "size": 16, "strokeWidth": 1, "clip": true},
     "encoding": {
       "x": {"field": "x", "type": "quantitative", "scale": {"domain": [14.2, 37.79], "nice": false, "zero": false}, "axis": null},
       "y": {"field": "y", "type": "quantitative", "scale": {"domain": [0, 0.1], "nice": false, "zero": false}, "axis": null}
     }},
    {"data": {"name": "p2e"}, "mark": {"type": "line", "color": "#111", "strokeWidth": 1.5, "strokeDash": [1.5, 4.5], "clip": true},
     "encoding": {
       "x": {"field": "x", "type": "quantitative", "scale": {"domain": [14.2, 37.79], "nice": false, "zero": false},
         "axis": {"orient": "top", "title": null, "labels": false, "values": [15,20,25,30,35], "tickSize": -10}},
       "y": {"field": "e", "type": "quantitative", "scale": {"domain": [0, 1.05], "nice": false, "zero": false},
         "axis": {"orient": "right", "title": null, "values": [0,0.2,0.4,0.6,0.8,1.0], "labelExpr": "format(datum.value, '.1f')", "tickSize": -10, "labelPadding": 15}}
     }},
    {"data": {"name": "p2e"}, "mark": {"type": "line", "opacity": 0, "clip": true},
     "encoding": {
       "x": {"field": "x", "type": "quantitative", "scale": {"domain": [14.2, 37.79], "nice": false, "zero": false}, "axis": null},
       "y": {"field": "e", "type": "quantitative", "scale": {"domain": [0, 1.05], "nice": false, "zero": false},
         "axis": {"orient": "right", "title": null, "labels": false, "domain": false, "values": [0.05,0.1,0.15,0.25,0.3,0.35,0.45,0.5,0.55,0.65,0.7,0.75,0.85,0.9,0.95,1.05], "tickSize": -5}}
     }}
  ]
}
]
}
